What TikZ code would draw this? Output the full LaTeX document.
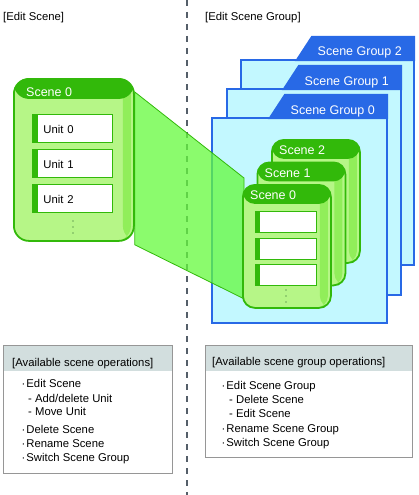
\documentclass[tikz,border=0pt]{standalone}
\usepackage{fontspec}
\setmainfont{Liberation Sans}

\definecolor{scgreen}{RGB}{50,185,10}
\definecolor{scbody}{RGB}{182,246,135}
\definecolor{scstrip}{RGB}{145,238,90}
\definecolor{scdots}{RGB}{110,170,90}
\definecolor{fanfill}{RGB}{100,250,60}
\definecolor{grpblue}{RGB}{40,105,230}
\definecolor{grpfill}{RGB}{195,248,255}
\definecolor{opsgray}{RGB}{150,150,150}
\definecolor{opshead}{RGB}{210,222,222}
\definecolor{divider}{RGB}{85,95,105}

\pgfdeclarelayer{back}
\pgfdeclarelayer{mid}
\pgfsetlayers{back,mid,main}

\begin{document}
\begin{tikzpicture}[x=1pt,y=-1pt,
  font=\fontsize{11.3}{13}\selectfont,
  scenecard/.style 2 args={draw=scgreen, line width=1.8pt, fill=scbody,
    rounded corners=#1, anchor=north west, inner sep=0pt,
    path picture={
      \fill[scstrip] ([xshift=-11pt]path picture bounding box.north east)
        rectangle ([xshift=-3pt]path picture bounding box.south east);
      \fill[scgreen] (path picture bounding box.north west)
        rectangle ([yshift=-#2]path picture bounding box.north east);}},
  scenelabel/.style={anchor=base west, text=white, inner sep=0pt,
    font=\fontsize{12.5}{14}\selectfont},
  unitbox/.style={draw=scgreen, line width=.9pt, fill=white,
    anchor=north west, inner sep=0pt,
    path picture={\fill[scgreen] (path picture bounding box.north west)
      rectangle ([xshift=#1]path picture bounding box.south west);}},
  unitbox/.default=6pt,
  grpbody/.style={draw=grpblue, line width=2.2pt, fill=grpfill},
  grptab/.style={draw=grpblue, line width=2.2pt, fill=grpblue},
  grplabel/.style={anchor=base east, text=white, inner sep=0pt,
    font=\fontsize{12.5}{14}\selectfont},
  fan/.style={fill=fanfill, fill opacity=.75, draw=scgreen, line width=.8pt},
  opsbox/.style={draw=opsgray, line width=1pt, anchor=north west, inner sep=0pt,
    path picture={\fill[opshead] (path picture bounding box.north west)
      rectangle ([yshift=-25pt]path picture bounding box.north east);}},
  opsline/.style={anchor=base west, inner sep=0pt}]

\useasboundingbox (0,0) rectangle (418,495);

\begin{pgfonlayer}{back}
\draw[divider, line width=1.2pt, dash pattern=on 6pt off 6pt] (187,0) -- (187,495);

% scene groups, back to front
\foreach \g/\lft/\tp/\rt/\bt in {2/241/60/414/265, 1/227/89/401/295, 0/212/118/387/323}{
  \draw[grpbody] (\lft,\tp) rectangle (\rt,\bt);
  \filldraw[grptab] (\rt-117,\tp) -- (\rt-102,\tp-23) -- (\rt,\tp-23) -- (\rt,\tp) -- cycle;
  \node[grplabel] (grp\g) at (\rt-12,\tp-4) {Scene Group \g};
}
\end{pgfonlayer}

\node[anchor=base west, inner sep=0pt] (editscene) at (3,20.5) {[Edit Scene]};
\node[anchor=base west, inner sep=0pt] (editgroup) at (205,20.5) {[Edit Scene Group]};

% scene being edited
\node[scenecard={15pt}{20pt}, minimum width=120pt, minimum height=162pt] (bigscene) at (13,78) {};
\node[scenelabel] (bigscenelabel) at (26,96.5) {Scene 0};
\foreach \u in {0,1,2}
  \node[unitbox, minimum width=80pt, minimum height=28pt, text width=58pt,
    inner xsep=11pt, text height=11pt, text depth=0pt] (unit\u) at (32,114+35*\u) {Unit \u};
\foreach \d in {0,1,2}
  \fill[scdots] (73,221+6*\d) circle (.9pt);

% scenes inside scene group 0
\foreach \s/\sx/\sy in {2/271/139, 1/256.5/161.5, 0/242/184}{
  \node[scenecard={12pt}{19pt}, minimum width=88pt, minimum height=123pt] (scene\s) at (\sx,\sy) {};
  \node[scenelabel] (scenelabel\s) at (\sx+8,\sy+15.5) {Scene \s};
}
\foreach \u/\uy in {0/211,1/237.5,2/264}
  \node[unitbox=5pt, minimum width=61pt, minimum height=21pt] (smallunit\u) at (255,\uy) {};
\foreach \d in {0,1,2}
  \fill[scdots] (286,290+6*\d) circle (.9pt);

\begin{pgfonlayer}{mid} % zoom from the scene to its place in the group
\filldraw[fan] ([yshift=-14pt]bigscene.north east)
  -- ([xshift=2pt,yshift=6pt]scene0.north west)
  -- ([xshift=2pt,yshift=10pt]scene0.south west)
  -- ([yshift=-3pt]bigscene.south east) -- cycle;
\end{pgfonlayer}

% operation lists
\node[opsbox, minimum width=169pt, minimum height=128pt] (sceneops) at (3,345) {};
\node[opsline] (sceneopstitle) at (12,366) {[Available scene operations]};
\foreach [count=\k] \ly/\lx/\lt in {387.5/21.5/{·\kern1pt Edit Scene},
    402/28/{- Add/delete Unit}, 415.5/28/{- Move Unit},
    433.5/21.5/{·\kern1pt Delete Scene}, 447.5/21.5/{·\kern1pt Rename Scene},
    461.5/21.5/{·\kern1pt Switch Scene Group}}
  \node[opsline] (sceneop\k) at (\lx,\ly) {\lt};

\node[opsbox, minimum width=207pt, minimum height=112pt] (groupops) at (205,345) {};
\node[opsline] (groupopstitle) at (212,365.5) {[Available scene group operations]};
\foreach [count=\k] \ly/\lx/\lt in {389.5/221.5/{·\kern1pt Edit Scene Group},
    403/229/{- Delete Scene}, 417/229/{- Edit Scene},
    432/221.5/{·\kern1pt Rename Scene Group}, 446/221.5/{·\kern1pt Switch Scene Group}}
  \node[opsline] (groupop\k) at (\lx,\ly) {\lt};
\end{tikzpicture}
\end{document}
